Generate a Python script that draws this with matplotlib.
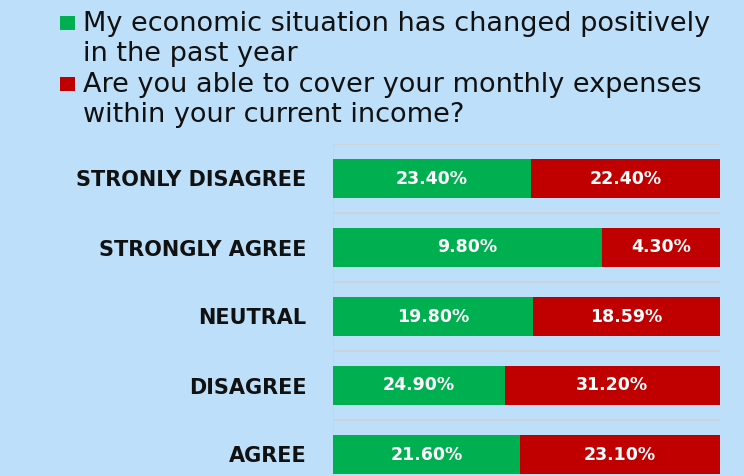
import matplotlib
matplotlib.use("Agg")
import matplotlib.pyplot as plt
from matplotlib.patches import Rectangle
import numpy as np

categories = ["STRONLY DISAGREE", "STRONGLY AGREE", "NEUTRAL", "DISAGREE", "AGREE"]
positive_change = [23.40, 9.80, 19.80, 24.90, 21.60]
cover_expenses = [22.40, 4.30, 18.59, 31.20, 23.10]
pos_labels = ["23.40%", "9.80%", "19.80%", "24.90%", "21.60%"]
cov_labels = ["22.40%", "4.30%", "18.59%", "31.20%", "23.10%"]
series_names = ["My economic situation has changed positively\nin the past year",
                "Are you able to cover your monthly expenses\nwithin your current income?"]

BG = "#BDDFF9"
GREEN = "#00B050"
RED = "#C00000"
GRID = "#CDD2D8"
W, H = 744, 476

fig = plt.figure(figsize=(W / 100, H / 100), dpi=100, facecolor=BG)
ax = fig.add_axes([333 / W, (H - 489) / H, 387 / W, 345 / H])
ax.set_facecolor(BG)

pos = np.array(positive_change)
cov = np.array(cover_expenses)
tot = pos + cov
gshare = pos / tot
rshare = cov / tot
y = np.arange(len(categories))

bh = 0.565
ax.barh(y, gshare, height=bh, color=GREEN, zorder=3)
ax.barh(y, rshare, left=gshare, height=bh, color=RED, zorder=3)

for i in range(len(categories)):
    ax.text(gshare[i] / 2, y[i], pos_labels[i], ha="center", va="center",
            color="white", fontsize=12.5, fontweight="bold", family="DejaVu Sans", zorder=4)
    ax.text(gshare[i] + rshare[i] / 2, y[i], cov_labels[i], ha="center", va="center",
            color="white", fontsize=12.5, fontweight="bold", family="DejaVu Sans", zorder=4)

ax.set_xlim(0, 1)
ax.set_ylim(len(categories) - 0.5, -0.5)
for b in np.arange(-0.5, len(categories), 1.0):
    ax.axhline(b, color=GRID, lw=1.3, zorder=1)
ax.axvline(0, color=GRID, lw=1.3, zorder=1)
for s in ax.spines.values():
    s.set_visible(False)
ax.set_xticks([])
ax.set_yticks(y)
ax.set_yticklabels(categories, fontsize=15, fontweight="bold", family="DejaVu Sans",
                   color="#111111")
ax.tick_params(axis="y", length=0, pad=19)

# legend (drawn manually so each swatch aligns with the first line of its label)
colors = [GREEN, RED]
text_tops = [11, 72]
sq_tops = [16, 77]
for name, c, tt, st in zip(series_names, colors, text_tops, sq_tops):
    fig.patches.append(Rectangle((60 / W, (H - st - 14) / H), 15 / W, 14 / H,
                                 transform=fig.transFigure, facecolor=c,
                                 edgecolor="none"))
    fig.text(83 / W, (H - tt) / H, name, ha="left", va="top", fontsize=19.5,
             family="DejaVu Sans", color="#111111", linespacing=1.2)

fig.savefig("out.png", dpi=100, facecolor=BG)
